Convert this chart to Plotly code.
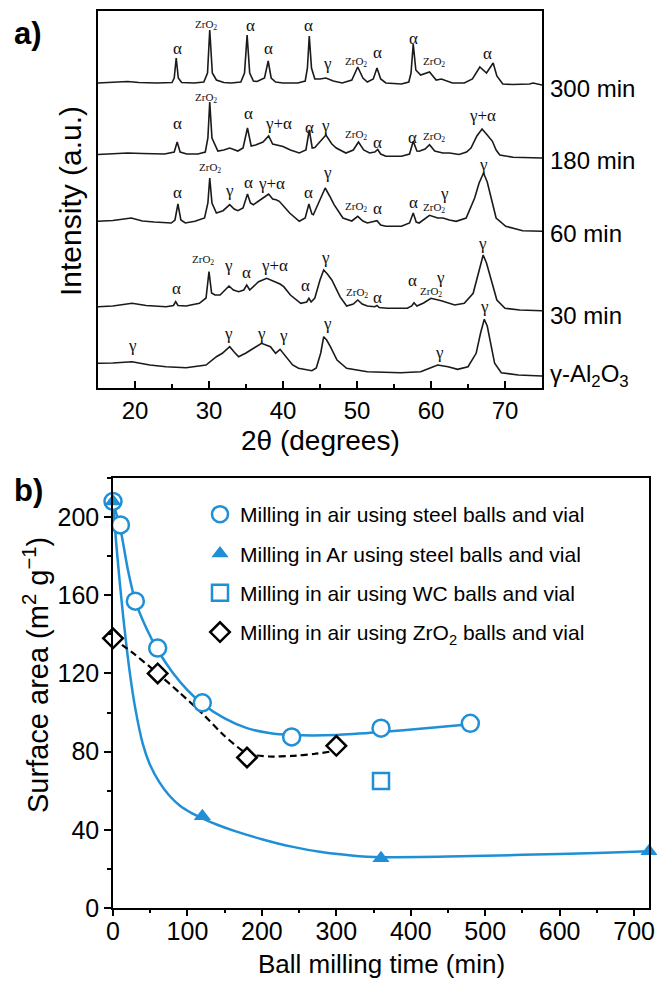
import plotly.graph_objects as go

# ---------------- data: panel a (XRD patterns, intensity in a.u. incl. stacking) -------------
tt_300 = [15, 17, 19, 20.5, 23, 25, 25.3, 25.57, 25.85, 26.3, 28, 29.3, 29.8, 30.1, 30.45, 31, 32, 33, 34.3, 34.8,
          35.15, 35.5, 36, 36.5, 37.5, 38.0, 38.4, 39, 40, 42, 43, 43.3, 43.55, 43.85, 44.3, 45, 45.8, 46.8, 48, 49.3,
          50.1, 50.8, 51.4, 52.2, 52.7, 53.2, 53.9, 56, 57, 57.3, 57.6, 57.95, 58.6, 59.8, 60.7, 61.4, 62.9, 64.5, 65.6,
          66.6, 67.5, 68.4, 68.9, 69.7, 71, 73.3, 73.8, 75]
I_300 = [305, 305.5, 306.5, 305.5, 305, 305.5, 310, 330, 310, 305.5, 305, 306, 315, 358, 315, 308, 305.5, 305, 306, 315,
         353, 315, 307, 306.5, 310, 327, 310, 306, 305, 305, 307, 320, 352, 320, 309, 309, 310, 307, 305, 308,
         321, 310, 306, 309, 320, 309, 305, 304, 306, 315, 344, 318, 313, 316, 308, 309, 305, 305, 309,
         321, 315, 325, 312, 304, 303.5, 304, 305, 303]

tt_180 = [15, 17, 19, 21, 24, 25.3, 25.7, 26.1, 27, 28.5, 29.5, 29.85, 30.1, 30.4, 31.2, 32, 32.8, 33.9, 34.6, 35.2,
          35.7, 36.3, 37.3, 38.06, 38.6, 40, 41, 42.2, 43.1, 43.55, 43.95, 44.3, 45, 45.8, 46.6, 47.2, 48.5, 49.5, 50.2,
          50.9, 51.7, 52.4, 52.8, 53.2, 53.9, 56, 57.1, 57.6, 58.1, 58.4, 59.2, 59.8, 60.5, 61.6, 62.5, 63.8, 64.8, 65.4,
          66.2, 66.9, 67.6, 68.3, 68.8, 69.3, 71.1, 73, 75]
I_180 = [233.5, 234, 235, 234.5, 234, 236, 246, 236, 234, 234, 236, 250, 286, 250, 237, 238, 240, 237, 240, 260,
         242, 243, 246, 252, 244, 241.5, 238, 235, 238, 258, 240, 240.5, 246, 253, 244, 240, 235, 238, 246,
         238, 235, 236, 238.5, 234, 231.7, 231.7, 234, 246.7, 237, 236.7, 239, 243.3, 237, 235, 235, 233.5, 236, 240,
         252, 259, 253, 246.7, 238, 233, 230.7, 230.5, 230]

tt_60 = [15, 17, 19.5, 21, 22.6, 24.9, 25.4, 25.8, 26.2, 26.8, 28.1, 29.4, 29.85, 30.1, 30.4, 31, 31.9, 32.8, 33.4, 33.9,
         34.6, 35.2, 35.6, 36, 37.3, 38.06, 38.6, 39.05, 39.5, 40.9, 42.2, 43, 43.5, 43.9, 44.1, 44.8, 45.7, 46.3, 46.9,
         48.1, 49.3, 50.1, 50.8, 51.4, 52.2, 52.7, 53.2, 53.9, 56, 57.1, 57.6, 58.0, 58.4, 59.2, 59.8, 60.9, 61.6, 62.5,
         63.4, 64.75, 65.9, 66.5, 67.1, 67.6, 67.9, 68.8, 70.1, 72.4, 75]
I_60 = [166.7, 167.5, 170, 167, 166, 165, 168, 184, 168, 165, 166.7, 170, 185, 210, 185, 175, 177.3, 183.3, 179, 177.3,
        180, 194, 185, 183.3, 190, 194, 189, 188.3, 186.7, 175, 166.7, 170, 184, 174, 173.3, 185, 200, 192, 183.3,
        170, 167, 171.7, 167, 165, 166, 167.3, 163, 161.7, 161.7, 165, 175, 166, 165, 169, 172.7, 170, 170, 168,
        166.7, 170, 190, 205, 215, 206, 196.7, 170, 161.7, 157.3, 156.7]

tt_30 = [15, 17, 19.6, 21.5, 24.2, 25.2, 25.5, 25.8, 26.9, 28.7, 29.6, 30.0, 30.35, 30.8, 31.5, 32.7, 33.3, 34, 34.7,
         35.1, 35.5, 36.7, 37.8, 39, 39.6, 40.1, 41, 42.4, 43.2, 43.5, 43.8, 44.3, 45.0, 45.5, 46.0, 46.6, 47.7, 48.6,
         49.5, 50.1, 50.7, 51.4, 52.4, 52.7, 53.0, 54.1, 56.8, 57.4, 57.7, 58.1, 59.0, 60, 61.4, 63.2, 64.5, 65.7, 66.4,
         67.05, 67.5, 68, 68.9, 70, 72, 75]
I_30 = [81.3, 82, 84.7, 82.5, 81.3, 82.5, 86.3, 82.5, 82, 84.7, 90, 116.3, 95, 93, 93, 102, 98, 96.3, 98,
        103, 98, 106.3, 109.7, 106.3, 104, 101.3, 93, 84.7, 86, 89.7, 86, 90, 108, 118, 114, 108, 91.3, 82,
        84, 88, 84, 82, 81.3, 82.5, 80.5, 79.7, 79.7, 82, 85.3, 82, 85, 89.7, 87.3, 83, 84.7, 94.7, 115,
        133, 125, 111.3, 88, 79.7, 78, 77.3]

tt_g = [15, 17, 19.6, 22, 24.2, 26.9, 29.6, 31, 31.8, 32.8, 33.4, 34, 35, 36, 37.1, 38.3, 39, 39.6, 40.5, 41.3, 42.1,
        43.9, 44.5, 45.1, 45.5, 45.9, 46.4, 47.3, 48.6, 51.4, 55.9, 58.6, 59.8, 60.9, 62.3, 63.6, 65, 66.1, 66.7, 67.2,
        67.6, 68, 68.6, 69.5, 71.8, 75]
I_g = [24.7, 25, 26.3, 23, 21.3, 20.3, 23, 31.3, 34.7, 41.3, 36, 31.3, 35, 39.7, 44.7, 41.3, 34.7, 38.7, 30, 23, 19.7,
       17.3, 20, 35, 51.3, 48, 41.3, 28, 19.7, 16.3, 15.3, 16.3, 19.7, 23, 21.3, 18.7, 21.3, 34.7, 55, 68.7,
       62, 48, 24.7, 15.3, 13, 12]

pattern_names = ["300 min", "180 min", "60 min", "30 min", "γ-Al<sub>2</sub>O<sub>3</sub>"]
pattern_label_y = [300, 228, 155, 73, 13]

# peak labels: (2theta, intensity, text)
peak_labels = [
    (25.8, 340, "α"), (29.6, 363, "Z"), (35.6, 363, "α"), (38.0, 340, "α"), (43.45, 363, "α"),
    (45.95, 325, "γ"), (49.8, 326, "Z"), (52.75, 336, "α"), (57.7, 350, "α"), (60.45, 326, "Z"), (67.6, 335, "α"),
    (25.8, 265, "α"), (29.65, 290, "Z"), (35.3, 275, "α"), (39.4, 265, "γ+α"), (43.6, 261, "α"), (45.7, 263, "γ"),
    (49.8, 253, "Z"), (52.8, 246, "α"), (57.5, 251, "α"), (60.45, 251, "Z"), (67.0, 273, "γ+α"),
    (25.8, 196, "α"), (30.1, 220, "Z"), (32.8, 198, "γ"), (35.4, 206, "α"), (38.5, 205, "γ+α"), (43.45, 196, "α"),
    (45.95, 216, "γ"), (49.8, 181, "Z"), (52.8, 180, "α"), (57.6, 186, "α"), (60.45, 180, "Z"), (61.8, 195, "γ"),
    (67.15, 224, "γ"),
    (25.6, 100, "α"), (29.2, 128, "Z"), (32.7, 123, "γ"), (35.1, 116, "α"), (38.9, 123, "γ+α"), (43.1, 103, "α"),
    (45.7, 131, "γ"), (50.0, 95, "Z"), (52.8, 91, "α"), (57.5, 108, "α"), (60.0, 96, "Z"), (61.25, 111, "γ"),
    (67.0, 145, "γ"),
    (19.7, 43, "γ"), (32.7, 55, "γ"), (37.1, 55, "γ"), (40.0, 53, "γ"), (45.95, 65, "γ"), (61.1, 36, "γ"),
    (67.2, 82, "γ"),
]

# ---------------- data: panel b (surface area) -------------
t_air_steel = [0, 10, 30, 60, 120, 240, 360, 480]
sa_air_steel = [208, 196, 157, 133, 105, 87.5, 92, 94.5]
t_ar_steel = [0, 120, 360, 720]
sa_ar_steel = [208, 47, 25.5, 29]
t_air_wc = [360]
sa_air_wc = [65]
t_air_zro2 = [0, 60, 180, 300]
sa_air_zro2 = [138, 120, 77, 83]

# fitted guide curves
fit_air_steel_t = [0, 5, 10, 20, 30, 45, 60, 80, 100, 120, 150, 180, 210, 240, 300, 360, 420, 480]
fit_air_steel_sa = [208, 201, 194, 173, 157, 143, 132, 120.5, 111.5, 104.5, 97, 92, 89.5, 88.5, 88.5, 90, 92, 94]
fit_ar_t = [0, 4, 9, 14, 22, 30, 40, 50, 62, 75, 90, 105, 120, 140, 165, 200, 240, 280, 320, 360, 450, 550, 650, 720]
fit_ar_sa = [208, 188, 167, 148, 122, 102, 84, 73, 64.5, 57.8, 52.3, 48.7, 45.9, 42.6, 39.2, 35.2, 31.4, 28.6, 26.9,
             26.0, 26.3, 27.2, 28.2, 29]
fit_zro2_t = [0, 30, 60, 90, 120, 150, 180, 210, 240, 270, 300]
fit_zro2_sa = [138, 129.5, 120, 110, 99.5, 88, 79, 77.5, 77.8, 78.8, 80.5]

# ---------------- figure -------------
W, H = 657, 982
BLUE = '#1f8fd6'
FONT = 'Arial, Liberation Sans, sans-serif'
SERIF = 'Times New Roman, Liberation Serif, serif'


def px(v):  # horizontal pixel -> paper
    return v / W


def py(v):  # vertical pixel -> paper
    return 1 - v / H


fig = go.Figure()

for tt, I in [(tt_300, I_300), (tt_180, I_180), (tt_60, I_60), (tt_30, I_30), (tt_g, I_g)]:
    fig.add_trace(go.Scatter(x=tt, y=I, mode='lines', line=dict(color='#1a1a1a', width=1.6),
                             xaxis='x', yaxis='y', showlegend=False, hoverinfo='skip'))

# fit curves
fig.add_trace(go.Scatter(x=fit_air_steel_t, y=fit_air_steel_sa, mode='lines',
                         line=dict(color=BLUE, width=2.5, shape='spline', smoothing=0.6),
                         xaxis='x2', yaxis='y2', showlegend=False, hoverinfo='skip'))
fig.add_trace(go.Scatter(x=fit_ar_t, y=fit_ar_sa, mode='lines',
                         line=dict(color=BLUE, width=2.5, shape='spline', smoothing=0.6),
                         xaxis='x2', yaxis='y2', showlegend=False, hoverinfo='skip'))
fig.add_trace(go.Scatter(x=fit_zro2_t, y=fit_zro2_sa, mode='lines',
                         line=dict(color='black', width=2.2, dash='7px,4px', shape='spline', smoothing=0.6),
                         xaxis='x2', yaxis='y2', showlegend=False, hoverinfo='skip'))

fig.add_trace(go.Scatter(x=t_air_steel, y=sa_air_steel, mode='markers', name='Milling in air using steel balls and vial',
                         marker=dict(symbol='circle', size=17, color='white', line=dict(color=BLUE, width=2.5)),
                         xaxis='x2', yaxis='y2', cliponaxis=False, legendgroup='a'))
fig.add_trace(go.Scatter(x=t_ar_steel, y=sa_ar_steel, mode='markers', name='Milling in Ar using steel balls and vial',
                         marker=dict(symbol='triangle-up', size=15, color=BLUE, line=dict(color=BLUE, width=0)),
                         xaxis='x2', yaxis='y2', cliponaxis=False, legendgroup='b'))
fig.add_trace(go.Scatter(x=t_air_wc, y=sa_air_wc, mode='markers', name='Milling in air using WC balls and vial',
                         marker=dict(symbol='square', size=16, color='white', line=dict(color=BLUE, width=2.5)),
                         xaxis='x2', yaxis='y2', cliponaxis=False, legendgroup='c'))
fig.add_trace(go.Scatter(x=t_air_zro2, y=sa_air_zro2, mode='markers',
                         name='Milling in air using ZrO<sub>2</sub> balls and vial',
                         marker=dict(symbol='diamond', size=15, color='white', line=dict(color='black', width=2.5)),
                         xaxis='x2', yaxis='y2', cliponaxis=False, legendgroup='d'))

annotations = []
for x, y, t in peak_labels:
    if t == 'Z':
        annotations.append(dict(x=x, y=y, xref='x', yref='y', text='ZrO<sub>2</sub>', showarrow=False,
                                xanchor='center', yanchor='middle',
                                font=dict(family=SERIF, size=11, color='#111')))
    else:
        annotations.append(dict(x=x, y=y, xref='x', yref='y', text=t, showarrow=False,
                                xanchor='center', yanchor='middle',
                                font=dict(family=SERIF, size=17, color='#111')))

for name, yv in zip(pattern_names, pattern_label_y):
    annotations.append(dict(x=px(548), y=yv, xref='paper', yref='y', text=name, showarrow=False,
                            xanchor='left', yanchor='middle', font=dict(family=FONT, size=24, color='black')))

annotations += [
    dict(x=px(12), y=py(34), xref='paper', yref='paper', text='<b>a)</b>', showarrow=False, xanchor='left',
         yanchor='middle', font=dict(family=FONT, size=31, color='black')),
    dict(x=px(12), y=py(490), xref='paper', yref='paper', text='<b>b)</b>', showarrow=False, xanchor='left',
         yanchor='middle', font=dict(family=FONT, size=31, color='black')),
    dict(x=px(320), y=py(440), xref='paper', yref='paper', text='2θ (degrees)', showarrow=False,
         xanchor='center', yanchor='middle', font=dict(family=FONT, size=28, color='black')),
    dict(x=px(71), y=py(201), xref='paper', yref='paper', text='Intensity (a.u.)', showarrow=False, textangle=-90,
         xanchor='center', yanchor='middle', font=dict(family=FONT, size=30, color='black')),
    dict(x=px(381), y=py(964), xref='paper', yref='paper', text='Ball milling time (min)', showarrow=False,
         xanchor='center', yanchor='middle', font=dict(family=FONT, size=26, color='black')),
    dict(x=px(36), y=py(675), xref='paper', yref='paper', text='Surface area (m<sup>2</sup> g<sup>−1</sup>)',
         showarrow=False, textangle=-90, xanchor='center', yanchor='middle',
         font=dict(family=FONT, size=29, color='black')),
]

axis_common = dict(showline=True, linecolor='black', linewidth=1.5, mirror=True, showgrid=False, zeroline=False,
                   automargin=False, tickcolor='black')

fig.update_layout(
    width=W, height=H, margin=dict(l=0, r=0, t=0, b=0),
    paper_bgcolor='white', plot_bgcolor='white',
    font=dict(family=FONT, color='black'),
    xaxis=dict(domain=[px(98), px(542)], anchor='y', range=[15, 75], tickvals=[20, 30, 40, 50, 60, 70],
               ticks='inside', ticklen=7, tickwidth=1.5, tickfont=dict(family=FONT, size=24, color='black'),
               minor=dict(tickvals=[25, 35, 45, 55, 65], ticks='inside', ticklen=4, tickwidth=1.5, tickcolor='black'),
               **axis_common),
    yaxis=dict(domain=[py(388), py(11)], anchor='x', range=[0, 377], showticklabels=False, ticks='', **axis_common),
    xaxis2=dict(domain=[px(113), px(649)], anchor='y2', range=[0, 720], dtick=100, tick0=0,
                ticks='outside', ticklen=6, tickwidth=1.5, ticklabelstandoff=-6,
                tickfont=dict(family=FONT, size=25, color='black'),
                minor=dict(dtick=50, tick0=0, ticks='outside', ticklen=3, tickwidth=1.5, tickcolor='black'),
                **axis_common),
    yaxis2=dict(domain=[py(908), py(478)], anchor='x2', range=[0, 220], dtick=40, tick0=0,
                ticks='outside', ticklen=7, tickwidth=1.5, tickfont=dict(family=FONT, size=25, color='black'),
                minor=dict(dtick=20, tick0=0, ticks='outside', ticklen=4, tickwidth=1.5, tickcolor='black'),
                **axis_common),
    legend=dict(x=px(200), y=py(494), xanchor='left', yanchor='top', bgcolor='rgba(0,0,0,0)',
                font=dict(family=FONT, size=21, color='black'), tracegroupgap=9, itemsizing='trace'),
    annotations=annotations,
)

fig.write_html("out.html")
